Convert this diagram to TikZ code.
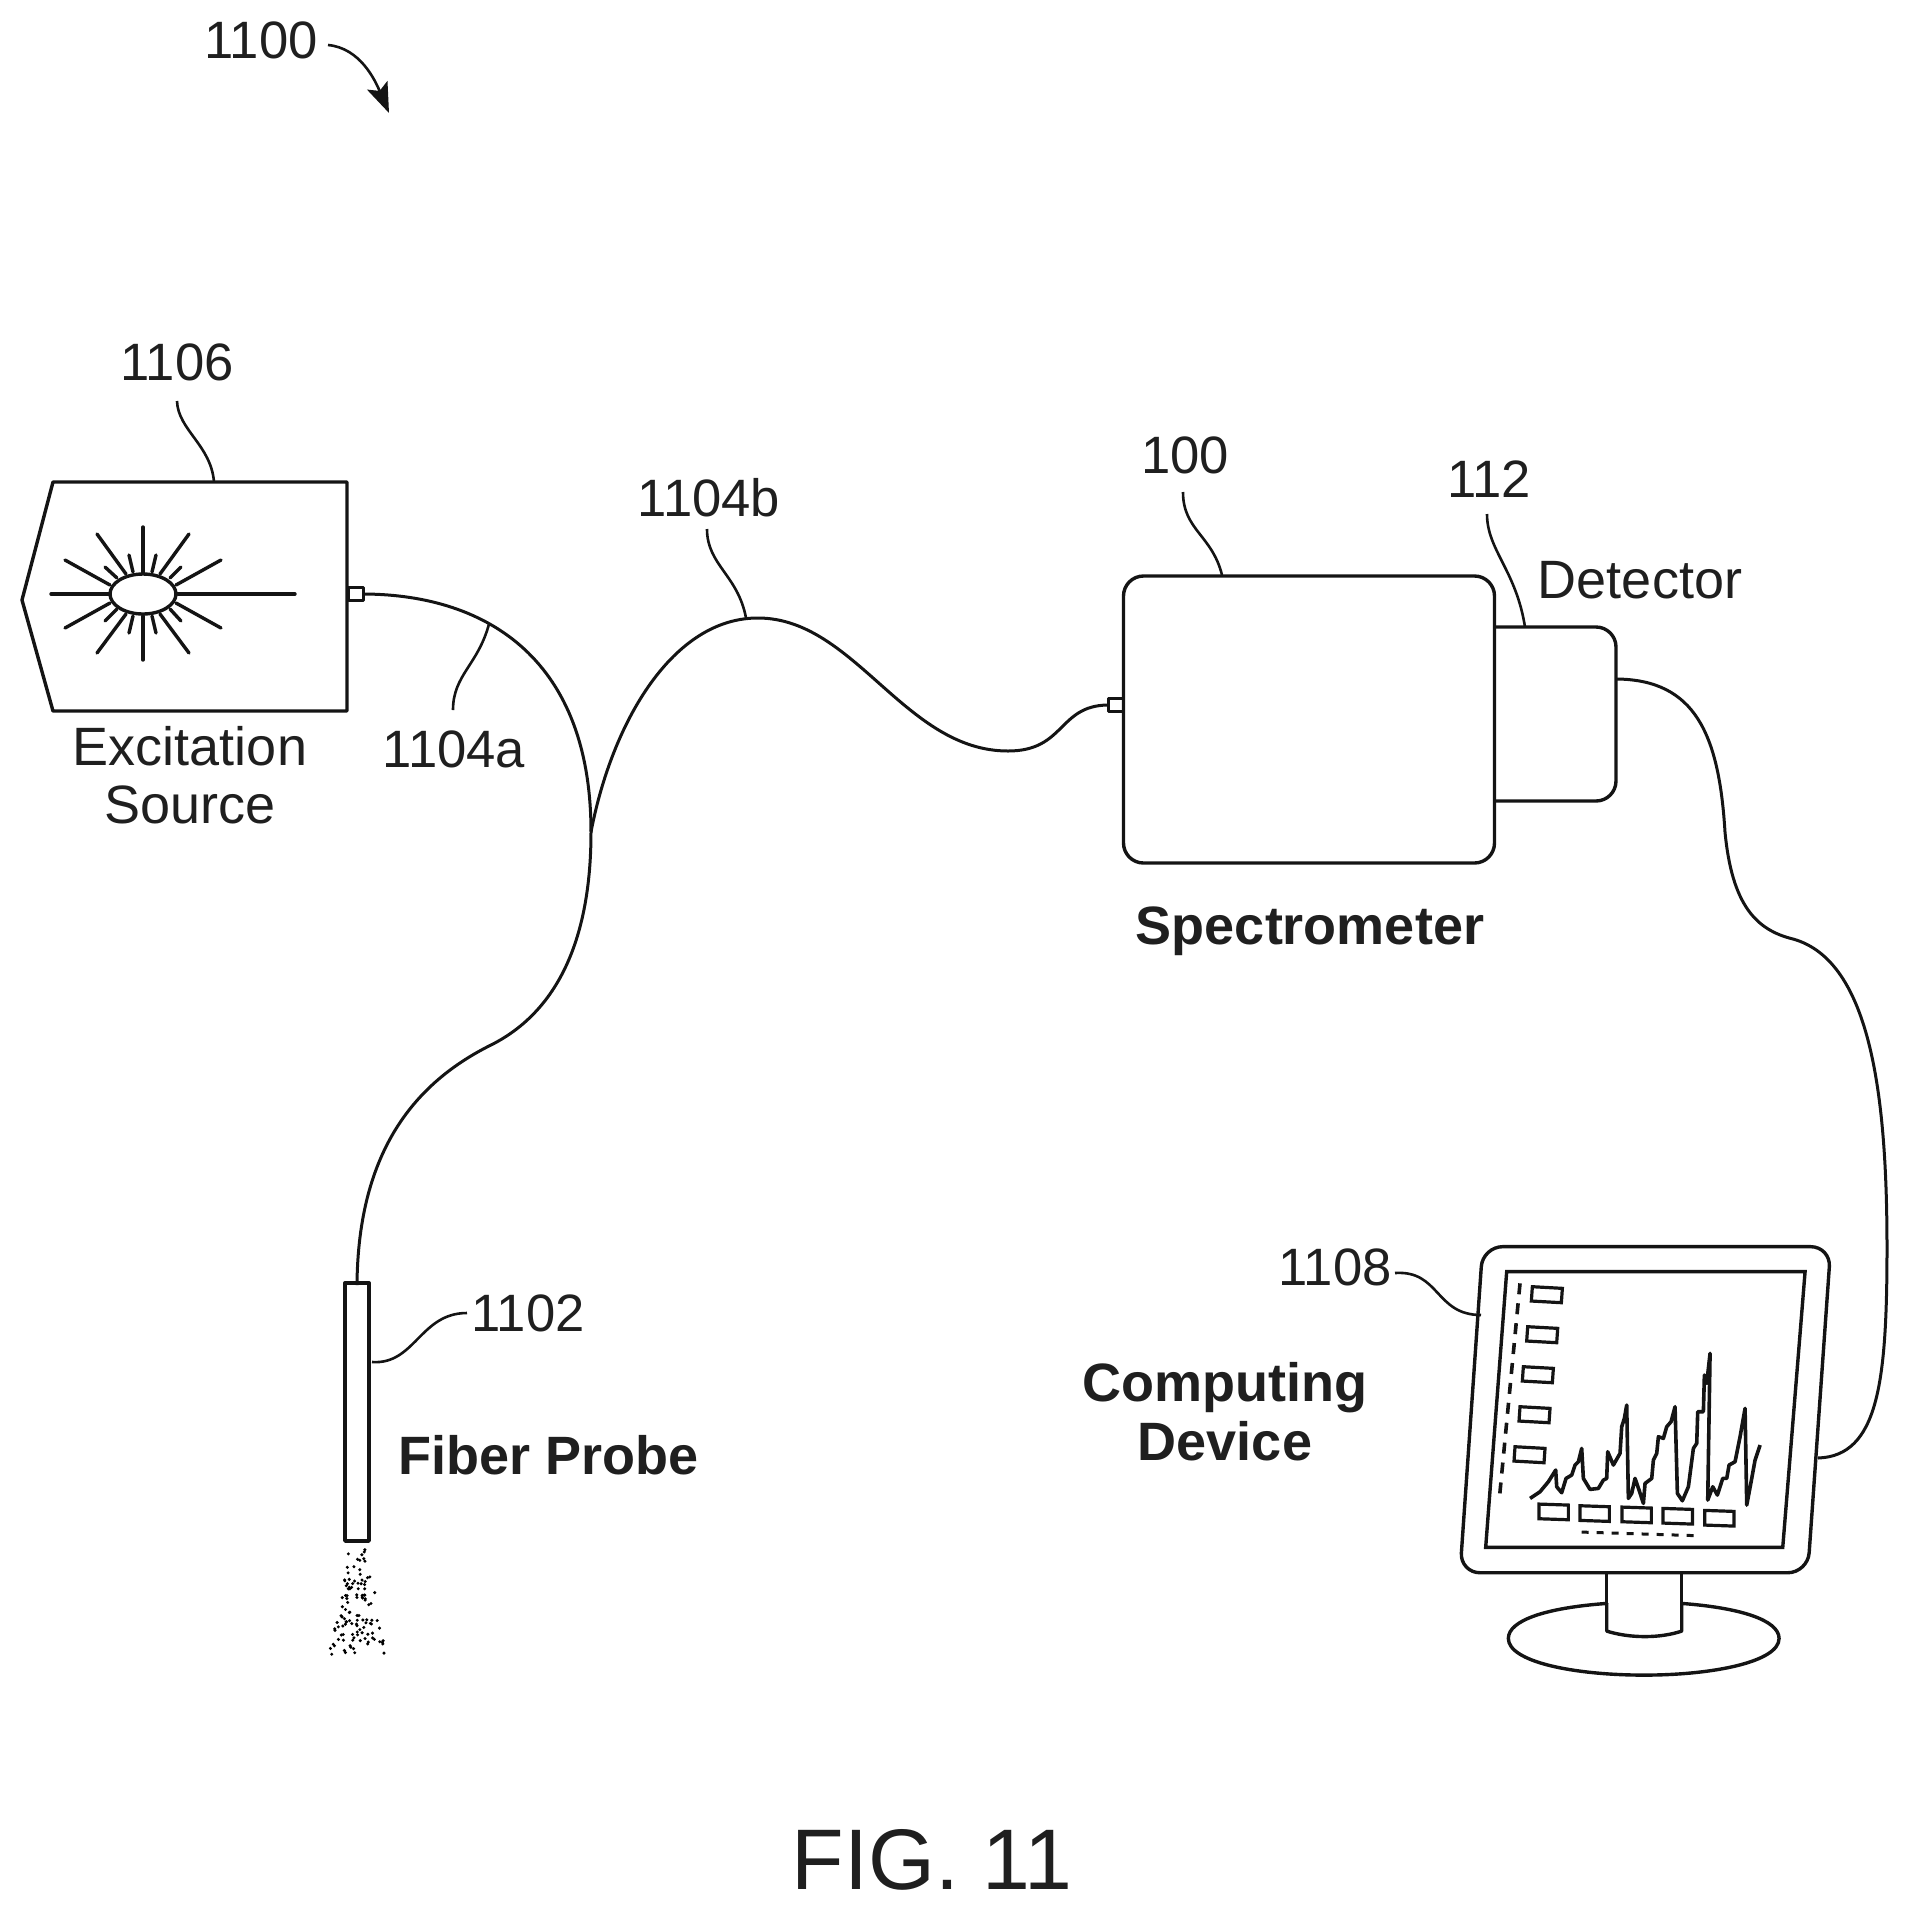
\documentclass[tikz,border=0pt]{standalone}
\usepackage{fontspec}
\setmainfont{Liberation Sans}
\usetikzlibrary{arrows.meta,shapes.geometric}
\tikzset{
  ink/.style={draw=black!92,line width=1.7pt,line cap=round,line join=round},
  fiber/.style={draw=black!92,line width=1.5pt},
  lead/.style={draw=black!92,line width=1.3pt},
  lab/.style={anchor=base,inner sep=0pt,font=\fontsize{27}{30}\selectfont,text=black!88},
  numlab/.style={anchor=base,inner sep=0pt,font=\fontsize{26.3}{30}\selectfont,text=black!88},
  blab/.style={anchor=base,inner sep=0pt,font=\fontsize{27}{30}\selectfont\bfseries,text=black!88},
  figlab/.style={anchor=base,inner sep=0pt,font=\fontsize{43}{46}\selectfont,text=black!88},
  small/.style={draw=black!92,line width=1.6pt,line join=miter}
}
\begin{document}
\begin{tikzpicture}[x=0.5pt,y=-0.5pt]
\useasboundingbox (0,0) rectangle (1909,1913);
% labels
\node[numlab] (l1100) at (261,58) {1100};
\node[numlab] (l1106) at (177,380) {1106};
\node[lab] (lexc) at (190,765) {Excitation};
\node[lab] (lsrc) at (190,823) {Source};
\node[numlab] (l1104a) at (454,767) {1104a};
\node[numlab] (l1104b) at (709,516) {1104b};
\node[numlab] (l100) at (1185,473) {100};
\node[numlab] (l112) at (1489,497) {112};
\node[lab] (ldet) at (1640,598) {Detector};
\node[blab] (lspec) at (1310,944) {Spectrometer};
\node[numlab] (l1108) at (1335,1285) {1108};
\node[blab] (lcomp) at (1225,1401) {Computing};
\node[blab] (ldev) at (1225,1460) {Device};
\node[numlab] (l1102) at (528,1331) {1102};
\node[blab] (lprobe) at (549,1474) {Fiber Probe};
\node[figlab] (lfig) at (932,1889) {FIG. 11};
% 1100 arrow
\coordinate (a0) at (328,45);
\coordinate (a1) at (389,113);
\draw[lead,-{Stealth[length=15pt,width=11pt,inset=3pt]}] (a0) .. controls (360,48) and (375,80) .. (a1);
% excitation source
\coordinate (srcTL) at (53,482);
\coordinate (srcTR) at (347,482);
\coordinate (srcBR) at (347,711);
\coordinate (srcBL) at (53,711);
\coordinate (srcTip) at (22,600);
\draw[ink] (srcTL) -- (srcTR) -- (srcBR) -- (srcBL) -- (srcTip) -- cycle;
\node[ink,draw,rectangle,minimum width=7.5pt,minimum height=6.5pt,inner sep=0pt,line width=1.2pt] (srcport) at (356,594) {};
\node[ink,draw,ellipse,minimum width=33pt,minimum height=20pt,inner sep=0pt] (lamp) at (143,594) {};
\draw[ink] (51,594) -- (lamp.west) (lamp.east) -- (295,594);
\draw[ink] (143,527) -- (143,573) (143,616) -- (143,660);
\draw[ink] (97,534) -- (126,574) (189,534) -- (160,574) (97,653) -- (126,614) (189,653) -- (160,614);
\draw[ink] (65,560) -- (110,585) (221,560) -- (176,585) (65,628) -- (110,603) (221,628) -- (176,603);
\draw[ink] (129,555) -- (133,572) (156,555) -- (152,572) (129,633) -- (133,616) (156,633) -- (152,616);
\draw[ink] (105,567) -- (117,578) (181,567) -- (170,578) (105,621) -- (117,609) (181,621) -- (170,609);
% spectrometer
\node[ink,draw,rectangle,rounded corners=10pt,minimum width=185.5pt,minimum height=143.5pt,inner sep=0pt] (spec) at (1309,719.5) {};
\coordinate (detTL) at (spec.east |- 0,627);
\coordinate (detTR) at (1616,627);
\coordinate (detBR) at (1616,801);
\coordinate (detBL) at (spec.east |- 0,801);
\draw[ink,rounded corners=10pt] (detTL) -- (detTR) -- (detBR) -- (detBL);
\node[ink,draw,rectangle,minimum width=7.5pt,minimum height=6.5pt,inner sep=0pt,line width=1.2pt] (specport) at (1116,705) {};
% fibers
\coordinate (merge) at (591,832);
\coordinate (probeTop) at (357,1285);
\coordinate (detOut) at (1617,679);
\coordinate (monIn) at (1818,1458);
\draw[fiber] (srcport.east) .. controls (489,595) and (591,661) .. (merge) .. controls (591,930) and (563,1010) .. (489,1046) .. controls (416,1083) and (358,1150) .. (probeTop);
\draw[fiber] (merge) .. controls (612,722) and (673,617) .. (759,618) .. controls (855,619) and (905,751) .. (1008,751) .. controls (1065,751) and (1058,706) .. (specport.west);
\draw[fiber] (detOut) .. controls (1695,680) and (1719,734) .. (1725,832) .. controls (1732,905) and (1756,930) .. (1793,939) .. controls (1872,961) and (1887,1101) .. (1887,1248) .. controls (1887,1383) and (1878,1456) .. (monIn);
% probe
\node[ink,draw,rectangle,minimum width=12pt,minimum height=129pt,inner sep=0pt] (probe) at (357,1412) {};
\pgfmathsetseed{11}
\foreach \i in {1,...,115}{
  \pgfmathsetmacro{\yy}{rnd^0.7*106}
  \pgfmathsetmacro{\wd}{9+\yy*0.19}
  \pgfmathsetmacro{\xx}{358+(rnd*2-1)*\wd}
  \fill[black] (\xx,1549+\yy) circle (0.85pt);
}
% monitor
\begin{scope}[shift={(1440,1230)},x=0.1667pt,y=-0.1667pt]
\coordinate (monTL) at (128,50);
\coordinate (monTR) at (1172,50);
\coordinate (monBR) at (1103,1028);
\coordinate (monBL) at (60,1028);
\draw[ink,fill=white] (500,1120) -- (500,1203) .. controls (570,1225) and (660,1225) .. (725,1203) -- (725,1120);
\draw[ink] (500,1120) .. controls (320,1133) and (205,1170) .. (205,1225) .. controls (205,1295) and (400,1335) .. (612,1335) .. controls (820,1335) and (1017,1295) .. (1017,1225) .. controls (1017,1170) and (900,1133) .. (725,1120);
\draw[ink] (500,1028) -- (500,1120) (725,1028) -- (725,1120);
\draw[ink,rounded corners=10pt] (monTL) -- (monTR) -- (monBR) -- (monBL) -- cycle;
\draw[ink,line join=miter] (200,125) -- (1095,125) -- (1028,952) -- (137,952) -- cycle;
\foreach \x/\y in {277/170,263/290,250/410,240/530,225/650}{
  \draw[small] (\x,\y) -- ++(90,5) -- ++(-3,43) -- ++(-90,-5) -- cycle;
}
\foreach \x/\y in {297/822,420/827,546/831,669/835,794/841}{
  \draw[small] (\x,\y) -- ++(88,3) -- ++(0,44) -- ++(-88,-3) -- cycle;
}
\draw[draw=black!92,line width=1.8pt,dash pattern=on 5.5pt off 4.5pt] (240,160) -- (177,816);
\draw[draw=black!92,line width=1.5pt,dash pattern=on 3.5pt off 4pt] (425,906) -- (775,917);
\draw[draw=black!92,line width=1.8pt,line join=round] (270,805) -- (300,785) -- (325,755) -- (347,720) -- (350,770) -- (365,788) -- (378,745) -- (395,735) -- (405,705) -- (415,695) -- (425,655) -- (430,745) -- (450,778) -- (475,775) -- (490,750) -- (500,745) -- (503,665) -- (520,705) -- (540,670) -- (545,590) -- (553,565) -- (560,525) -- (565,805) -- (575,790) -- (585,745) -- (597,780) -- (610,820) -- (615,760) -- (635,745) -- (640,690) -- (650,670) -- (655,620) -- (670,625) -- (680,590) -- (693,575) -- (705,530) -- (712,790) -- (727,812) -- (745,770) -- (760,655) -- (770,640) -- (773,545) -- (790,545) -- (793,435) -- (800,460) -- (810,370) -- (803,810) -- (818,770) -- (832,795) -- (848,745) -- (860,745) -- (867,705) -- (885,695) -- (900,620) -- (915,535) -- (920,825) -- (935,745) -- (945,690) -- (960,645);
\end{scope}
% leaders
\draw[lead] (177,401) .. controls (178,430) and (211,445) .. (214,482);
\draw[lead] (489,624) .. controls (478,665) and (453,675) .. (453,710);
\draw[lead] (746,618) .. controls (738,575) and (707,565) .. (707,529);
\draw[lead] (1222,575) .. controls (1212,535) and (1183,530) .. (1183,492);
\draw[lead] (1525,627) .. controls (1516,570) and (1487,550) .. (1487,514);
\draw[lead] (1395,1273) .. controls (1440,1270) and (1435,1315) .. (1481,1315);
\draw[lead] (372,1362) .. controls (415,1365) and (420,1313) .. (467,1313);
\end{tikzpicture}
\end{document}
